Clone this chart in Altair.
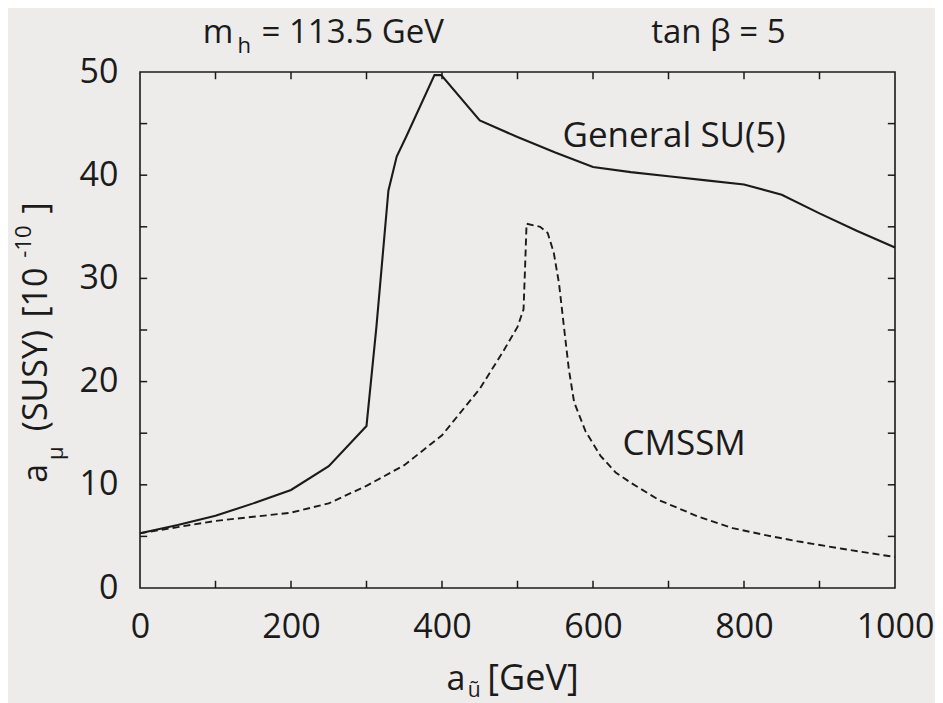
import altair as alt
import pandas as pd

# ---- data ----
su5_x = [0, 50, 100, 150, 200, 250, 300, 313, 329, 340, 353, 390, 399, 450, 500, 550, 600, 650, 700, 750, 800, 850, 900, 950, 1000]
su5_y = [5.3, 6.1, 7.0, 8.2, 9.5, 11.8, 15.7, 25.2, 38.5, 41.8, 43.8, 49.7, 49.7, 45.3, 43.7, 42.2, 40.8, 40.3, 39.9, 39.5, 39.1, 38.1, 36.3, 34.6, 33.0]

cmssm_x = [0, 50, 100, 150, 200, 250, 300, 350, 400, 450, 480, 500, 508, 510, 512, 530, 540, 548, 555, 562, 568, 575, 590, 610, 630, 650, 688, 740, 785, 830, 873, 930, 1000]
cmssm_y = [5.3, 5.9, 6.5, 6.9, 7.3, 8.2, 9.9, 11.9, 14.8, 19.3, 22.8, 25.3, 27.0, 31.0, 35.3, 35.0, 34.4, 32.5, 29.5, 25.0, 21.2, 18.0, 15.2, 12.8, 11.2, 10.2, 8.5, 6.9, 5.8, 5.1, 4.5, 3.8, 3.0]

x_label_values = [0, 200, 400, 600, 800, 1000]
y_label_values = [0, 10, 20, 30, 40, 50]
x_tick_values = [100, 200, 300, 400, 500, 600, 700, 800, 900]
y_tick_values = [5, 10, 15, 20, 25, 30, 35, 40, 45]

ann_text = ["m", "h", "= 113.5 GeV", "tan β = 5", "General SU(5)", "CMSSM",
            "a", "ũ", "[GeV]",
            "a", "μ", "(SUSY)", "[10", "-10", "]"]
ann_x = [83, 129, 161, 677, 559.6, 639,
         406, 434, 460,
         -123.8, -102.6, -123.8, -123.8, -145, -123.8]
ann_y = [52.8, 51.8, 52.8, 52.8, 42.7, 12.9,
         -9.9, -10.6, -9.9,
         10.2, 12.4, 15.2, 26.2, 32.0, 36.3]
ann_size = [33, 22, 33, 33, 35, 35,
            34, 21, 36,
            34, 22, 34, 34, 22, 34]
ann_angle = [0, 0, 0, 0, 0, 0,
             0, 0, 0,
             270, 270, 270, 270, 270, 270]

FONT = "Open Sans"
INK = "#1b1b1b"

lines = pd.concat([
    pd.DataFrame({"x": su5_x, "y": su5_y, "series": "General SU(5)", "i": range(len(su5_x))}),
    pd.DataFrame({"x": cmssm_x, "y": cmssm_y, "series": "CMSSM", "i": range(len(cmssm_x))}),
])

xs = alt.Scale(domain=[0, 1000], nice=False, zero=False)
ys = alt.Scale(domain=[0, 50], nice=False, zero=False)

x_axis = alt.Axis(values=x_label_values, format="d", ticks=False, domain=False, grid=False, title=None,
                  labelFont=FONT, labelFontSize=34, labelColor=INK, labelPadding=22,
                  labelFlush=False, labelOverlap=False)
y_axis = alt.Axis(values=y_label_values, format="d", ticks=False, domain=False, grid=False, title=None,
                  labelFont=FONT, labelFontSize=34, labelColor=INK, labelPadding=22,
                  labelOverlap=False)

solid = alt.Chart(lines).transform_filter(alt.datum.series == "General SU(5)").mark_line(
    color=INK, strokeWidth=2.1
).encode(
    x=alt.X("x:Q", scale=xs, axis=x_axis),
    y=alt.Y("y:Q", scale=ys, axis=y_axis),
    order="i:Q",
)

dashed = alt.Chart(lines).transform_filter(alt.datum.series == "CMSSM").mark_line(
    color=INK, strokeWidth=1.9, strokeDash=[7, 4]
).encode(
    x=alt.X("x:Q", scale=xs),
    y=alt.Y("y:Q", scale=ys),
    order="i:Q",
)

# inward ticks on all four sides
xt = pd.DataFrame({
    "x": x_tick_values * 2,
    "y": [0] * len(x_tick_values) + [50] * len(x_tick_values),
    "y2": [0.7] * len(x_tick_values) + [49.3] * len(x_tick_values),
})
yt = pd.DataFrame({
    "y": y_tick_values * 2,
    "x": [0] * len(y_tick_values) + [1000] * len(y_tick_values),
    "x2": [9.5] * len(y_tick_values) + [990.5] * len(y_tick_values),
})
xticks = alt.Chart(xt).mark_rule(color=INK, strokeWidth=1.5).encode(
    x=alt.X("x:Q", scale=xs), y=alt.Y("y:Q", scale=ys), y2="y2:Q")
yticks = alt.Chart(yt).mark_rule(color=INK, strokeWidth=1.5).encode(
    y=alt.Y("y:Q", scale=ys), x=alt.X("x:Q", scale=xs), x2="x2:Q")

ann = pd.DataFrame({"t": ann_text, "x": ann_x, "y": ann_y, "s": ann_size, "a": ann_angle})
texts = alt.Chart(ann).mark_text(
    font=FONT, color=INK, align="left", baseline="alphabetic"
).encode(
    x=alt.X("x:Q", scale=xs),
    y=alt.Y("y:Q", scale=ys),
    text="t:N",
    size=alt.Size("s:Q", scale=None),
    angle=alt.Angle("a:Q", scale=None),
)

chart = alt.layer(solid, dashed, xticks, yticks, texts).properties(
    width=755, height=516,
    autosize="none",
    padding={"left": 132, "top": 64, "right": 40, "bottom": 115},
    background="#eeecea",
).configure_view(stroke=INK, strokeWidth=1.6)

chart.save("out.html", embed_options={"renderer": "svg", "actions": False})
